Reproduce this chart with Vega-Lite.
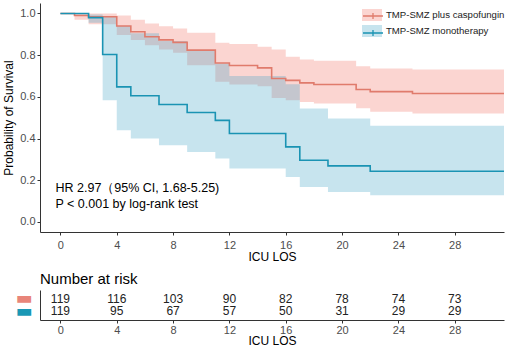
{
  "$schema": "https://vega.github.io/schema/vega-lite/v6.json",
  "padding": {"left": 2, "top": 3, "right": 0, "bottom": 0},
  "config": {
    "font": "Liberation Sans",
    "view": {"stroke": null},
    "axis": {"grid": false, "domainColor": "#333333", "tickColor": "#333333", "labelColor": "#4d4d4d", "labelFontSize": 11, "titleFontSize": 12, "titleFontWeight": "normal", "titleColor": "#000000", "labelFont": "Liberation Sans", "titleFont": "Liberation Sans", "tickSize": 3}
  },
  "datasets": {
    "curves": [
      {"group": "TMP-SMZ plus caspofungin", "t": 0, "surv": 1.0, "upper": 1.0, "lower": 1.0},
      {"group": "TMP-SMZ plus caspofungin", "t": 1, "surv": 0.99, "upper": 1.0, "lower": 0.97},
      {"group": "TMP-SMZ plus caspofungin", "t": 2, "surv": 0.984, "upper": 1.0, "lower": 0.948},
      {"group": "TMP-SMZ plus caspofungin", "t": 4, "surv": 0.94, "upper": 0.99, "lower": 0.896},
      {"group": "TMP-SMZ plus caspofungin", "t": 5, "surv": 0.912, "upper": 0.97, "lower": 0.872},
      {"group": "TMP-SMZ plus caspofungin", "t": 6, "surv": 0.888, "upper": 0.952, "lower": 0.848},
      {"group": "TMP-SMZ plus caspofungin", "t": 7, "surv": 0.873, "upper": 0.939, "lower": 0.827},
      {"group": "TMP-SMZ plus caspofungin", "t": 8, "surv": 0.861, "upper": 0.928, "lower": 0.811},
      {"group": "TMP-SMZ plus caspofungin", "t": 9, "surv": 0.824, "upper": 0.907, "lower": 0.752},
      {"group": "TMP-SMZ plus caspofungin", "t": 11, "surv": 0.762, "upper": 0.859, "lower": 0.672},
      {"group": "TMP-SMZ plus caspofungin", "t": 12, "surv": 0.75, "upper": 0.853, "lower": 0.659},
      {"group": "TMP-SMZ plus caspofungin", "t": 14, "surv": 0.739, "upper": 0.84, "lower": 0.651},
      {"group": "TMP-SMZ plus caspofungin", "t": 15, "surv": 0.688, "upper": 0.827, "lower": 0.595},
      {"group": "TMP-SMZ plus caspofungin", "t": 16, "surv": 0.679, "upper": 0.792, "lower": 0.584},
      {"group": "TMP-SMZ plus caspofungin", "t": 17, "surv": 0.667, "upper": 0.779, "lower": 0.575},
      {"group": "TMP-SMZ plus caspofungin", "t": 18, "surv": 0.659, "upper": 0.773, "lower": 0.568},
      {"group": "TMP-SMZ plus caspofungin", "t": 21, "surv": 0.635, "upper": 0.747, "lower": 0.545},
      {"group": "TMP-SMZ plus caspofungin", "t": 22, "surv": 0.625, "upper": 0.736, "lower": 0.528},
      {"group": "TMP-SMZ plus caspofungin", "t": 25, "surv": 0.616, "upper": 0.731, "lower": 0.52},
      {"group": "TMP-SMZ plus caspofungin", "t": 31.5, "surv": 0.616, "upper": 0.731, "lower": 0.52},
      {"group": "TMP-SMZ monotherapy", "t": 0, "surv": 1.0, "upper": 1.0, "lower": 1.0},
      {"group": "TMP-SMZ monotherapy", "t": 2, "surv": 0.98, "upper": 0.995, "lower": 0.955},
      {"group": "TMP-SMZ monotherapy", "t": 3, "surv": 0.803, "upper": 0.985, "lower": 0.584},
      {"group": "TMP-SMZ monotherapy", "t": 4, "surv": 0.648, "upper": 0.94, "lower": 0.44},
      {"group": "TMP-SMZ monotherapy", "t": 5, "surv": 0.605, "upper": 0.905, "lower": 0.4},
      {"group": "TMP-SMZ monotherapy", "t": 7, "surv": 0.563, "upper": 0.868, "lower": 0.368},
      {"group": "TMP-SMZ monotherapy", "t": 9, "surv": 0.525, "upper": 0.822, "lower": 0.336},
      {"group": "TMP-SMZ monotherapy", "t": 11, "surv": 0.487, "upper": 0.76, "lower": 0.304},
      {"group": "TMP-SMZ monotherapy", "t": 12, "surv": 0.424, "upper": 0.7, "lower": 0.256},
      {"group": "TMP-SMZ monotherapy", "t": 16, "surv": 0.36, "upper": 0.66, "lower": 0.216},
      {"group": "TMP-SMZ monotherapy", "t": 17, "surv": 0.296, "upper": 0.544, "lower": 0.168},
      {"group": "TMP-SMZ monotherapy", "t": 19, "surv": 0.269, "upper": 0.496, "lower": 0.144},
      {"group": "TMP-SMZ monotherapy", "t": 22, "surv": 0.243, "upper": 0.462, "lower": 0.128},
      {"group": "TMP-SMZ monotherapy", "t": 31.5, "surv": 0.243, "upper": 0.462, "lower": 0.128}
    ],
    "risk": [
      {"group": "TMP-SMZ plus caspofungin", "t": 0, "n": 119},
      {"group": "TMP-SMZ plus caspofungin", "t": 4, "n": 116},
      {"group": "TMP-SMZ plus caspofungin", "t": 8, "n": 103},
      {"group": "TMP-SMZ plus caspofungin", "t": 12, "n": 90},
      {"group": "TMP-SMZ plus caspofungin", "t": 16, "n": 82},
      {"group": "TMP-SMZ plus caspofungin", "t": 20, "n": 78},
      {"group": "TMP-SMZ plus caspofungin", "t": 24, "n": 74},
      {"group": "TMP-SMZ plus caspofungin", "t": 28, "n": 73},
      {"group": "TMP-SMZ monotherapy", "t": 0, "n": 119},
      {"group": "TMP-SMZ monotherapy", "t": 4, "n": 95},
      {"group": "TMP-SMZ monotherapy", "t": 8, "n": 67},
      {"group": "TMP-SMZ monotherapy", "t": 12, "n": 57},
      {"group": "TMP-SMZ monotherapy", "t": 16, "n": 50},
      {"group": "TMP-SMZ monotherapy", "t": 20, "n": 31},
      {"group": "TMP-SMZ monotherapy", "t": 24, "n": 29},
      {"group": "TMP-SMZ monotherapy", "t": 28, "n": 29}
    ],
    "notes": [
      {"note": "HR 2.97（95% CI, 1.68-5.25)", "line": 1},
      {"note": "P < 0.001 by log-rank test", "line": 2}
    ]
  },
  "resolve": {"scale": {"fill": "independent", "stroke": "independent", "x": "independent", "y": "independent"}},
  "spacing": 9,
  "vconcat": [
    {
      "width": 464,
      "height": 229,
      "layer": [
        {
          "data": {"name": "curves"},
          "transform": [{"filter": "datum.group == 'TMP-SMZ plus caspofungin'"}],
          "mark": {"type": "area", "interpolate": "step-after", "clip": true},
          "encoding": {
            "x": {"field": "t", "type": "quantitative", "scale": {"domain": [-1.45, 31.5], "nice": false, "zero": false},
              "axis": {"values": [0, 4, 8, 12, 16, 20, 24, 28], "title": "ICU LOS", "labelPadding": 4, "titlePadding": 1}},
            "y": {"field": "upper", "type": "quantitative", "scale": {"domain": [-0.048, 1.05], "nice": false, "zero": false},
              "axis": {"values": [0, 0.2, 0.4, 0.6, 0.8, 1.0], "format": ".1f", "title": "Probability of Survival", "labelPadding": 2, "titlePadding": 4}},
            "y2": {"field": "lower"},
            "fill": {"field": "group", "type": "nominal",
              "scale": {"domain": ["TMP-SMZ plus caspofungin", "TMP-SMZ monotherapy"], "range": ["#fbd5d1", "rgba(68,165,198,0.3)"]},
              "legend": {"orient": "none", "legendX": 322, "legendY": 2, "title": null, "symbolType": "M-1,-0.6H1V0.6H-1Z", "symbolSize": 400, "symbolStrokeWidth": 0, "symbolOpacity": 1, "labelFontSize": 9.6, "labelColor": "#222222", "labelOffset": 4, "rowPadding": -1}}
          }
        },
        {
          "data": {"name": "curves"},
          "transform": [{"filter": "datum.group == 'TMP-SMZ monotherapy'"}],
          "mark": {"type": "area", "interpolate": "step-after", "clip": true},
          "encoding": {
            "x": {"field": "t", "type": "quantitative"},
            "y": {"field": "upper", "type": "quantitative"},
            "y2": {"field": "lower"},
            "fill": {"field": "group", "type": "nominal"}
          }
        },
        {
          "data": {"name": "curves"},
          "mark": {"type": "line", "interpolate": "step-after", "strokeWidth": 1.6, "clip": true},
          "encoding": {
            "x": {"field": "t", "type": "quantitative"},
            "y": {"field": "surv", "type": "quantitative"},
            "stroke": {"field": "group", "type": "nominal", "sort": "descending",
              "scale": {"range": ["#e07b6c", "#1a93b3"]},
              "legend": {"orient": "none", "legendX": 322, "legendY": 2, "title": null, "symbolType": "M-1,0H1M0,-0.3V0.3", "symbolSize": 400, "symbolStrokeWidth": 1.3, "labelFontSize": 9.6, "labelColor": "#222222", "labelOffset": 4, "rowPadding": -1, "labelOpacity": 0}}
          }
        },
        {
          "data": {"name": "notes"},
          "transform": [{"filter": "datum.line == 1"}],
          "mark": {"type": "text", "align": "left", "baseline": "middle", "fontSize": 12.5, "color": "#000000"},
          "encoding": {
            "x": {"datum": -0.35},
            "y": {"datum": 0.165},
            "text": {"field": "note", "type": "nominal"}
          }
        },
        {
          "data": {"name": "notes"},
          "transform": [{"filter": "datum.line == 2"}],
          "mark": {"type": "text", "align": "left", "baseline": "middle", "fontSize": 12.5, "color": "#000000"},
          "encoding": {
            "x": {"datum": -0.35},
            "y": {"datum": 0.088},
            "text": {"field": "note", "type": "nominal"}
          }
        }
      ]
    },
    {
      "width": 464,
      "height": 30,
      "title": {"text": "Number at risk", "anchor": "start", "frame": "group", "fontSize": 15, "fontWeight": "normal", "color": "#000000", "offset": 3},
      "data": {"name": "risk"},
      "mark": {"type": "text", "fontSize": 12, "color": "#222222"},
      "encoding": {
        "x": {"field": "t", "type": "quantitative", "scale": {"domain": [-1.45, 31.5], "nice": false, "zero": false},
          "axis": {"values": [0, 4, 8, 12, 16, 20, 24, 28], "title": "ICU LOS", "labelPadding": 1, "titlePadding": 0}},
        "y": {"field": "group", "type": "nominal", "scale": {"type": "point", "domain": ["TMP-SMZ plus caspofungin", "TMP-SMZ monotherapy"], "padding": 0.68},
          "axis": {"title": null, "ticks": false, "labelExpr": "'▬'", "labelFont": "DejaVu Sans", "labelFontSize": 18, "labelPadding": 8,
            "labelColor": {"expr": "datum.value == 'TMP-SMZ plus caspofungin' ? '#e8857a' : '#1a98b5'"}}},
        "text": {"field": "n", "type": "quantitative"}
      }
    }
  ]
}
